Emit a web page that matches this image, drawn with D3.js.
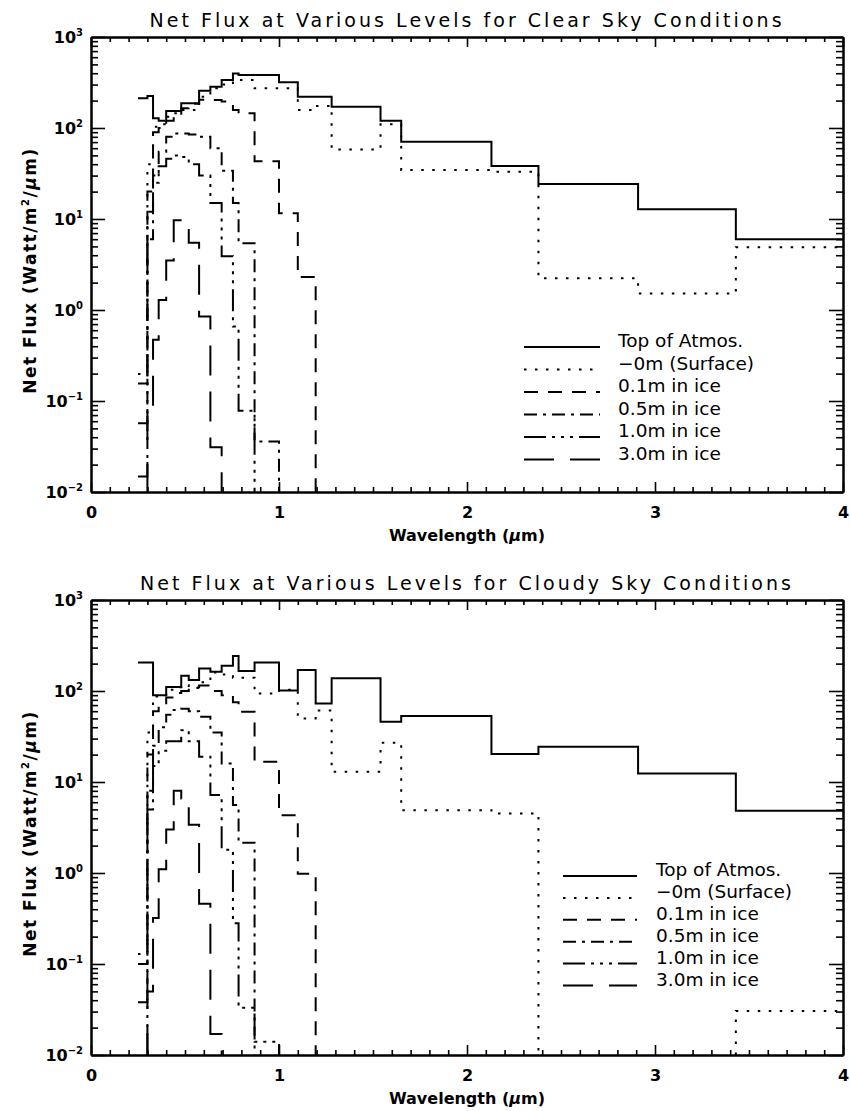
<!DOCTYPE html>
<html><head><meta charset="utf-8">
<script src="https://cdn.jsdelivr.net/npm/d3@7"></script>
<style>body{margin:0;background:#fff} svg{display:block;background:#fff}</style>
</head><body>
<svg id="c" width="850" height="1111"></svg>
<script>
// ---------- DATA ----------
// wavelength band edges (µm); each series gives one value per band (null = below 10^-2)
const bandEdges = [0.25, 0.30, 0.33, 0.36, 0.40, 0.44, 0.48, 0.52, 0.575, 0.635, 0.695, 0.755, 0.785, 0.87, 1.00, 1.10, 1.195, 1.28, 1.54, 1.65, 2.13, 2.38, 2.91, 3.43, 4.00];

// Clear sky
const clearTOA  = [212, 225, 128, 120, 154, 154, 187, 187, 257, 284, 337, 398, 382, 382, 318, 221, 221, 171, 120, 70.6, 38.2, 24.3, 12.8, 6.0];
const clearSurf = [0.198, 40, 103, 110, 133, 145, 158, 158, 221, 273, 300, 337, 337, 273, 273, 158, 175, 58, 110, 34.5, 33, 2.23, 1.52, 4.89];
const clear01   = [0.156, 20, 90, 100, 120, 140, 165, 185, 205, 203, 195, 158, 145, 43, 11.6, 2.3, null, null, null, null, null, null, null, null];
const clear05   = [0.057, 6, 30, 55, 80, 87, 87, 85, 80, 60, 34, 15, 5.4, 0.036, null, null, null, null, null, null, null, null, null, null];
const clear10   = [0.0148, 12, 25, 38, 46, 50, 48, 40, 30, 15, 3.9, 0.66, 0.078, null, null, null, null, null, null, null, null, null, null, null];
const clear30   = [null, 0.08, 0.47, 1.29, 3.5, 9.7, 9.7, 5.5, 0.85, 0.031, null, null, null, null, null, null, null, null, null, null, null, null, null, null];

// Cloudy sky
const cloudyTOA  = [206, 206, 90, 90, 111, 111, 147, 132, 177, 163, 190, 243, 166, 206, 101, 170, 73, 138, 46, 53, 20.3, 24.4, 12.4, 4.84];
const cloudySurf = [0.129, 35, 87, 90, 103, 110, 116, 108, 125, 160, 152, 140, 140, 94, 103, 50, 61, 13, 27, 4.9, 4.5, null, null, 0.0305];
const cloudy01   = [0.10, 20, 60, 70, 85, 95, 100, 110, 115, 100, 90, 75, 59, 16.7, 4.3, 0.98, null, null, null, null, null, null, null, null];
const cloudy05   = [0.038, 5, 25, 40, 55, 62, 64, 60, 52, 35, 16, 5.6, 2.15, null, null, null, null, null, null, null, null, null, null, null];
const cloudy10   = [null, 8, 15, 22, 28, 28, 37, 28, 19, 7.2, 1.8, 0.28, 0.033, 0.014, null, null, null, null, null, null, null, null, null, null];
const cloudy30   = [null, 0.05, 0.32, 1.1, 3.0, 8.0, 6.6, 3.4, 0.46, 0.017, null, null, null, null, null, null, null, null, null, null, null, null, null, null];

const seriesNames = ["Top of Atmos.", "\u22120m (Surface)", "0.1m in ice", "0.5m in ice", "1.0m in ice", "3.0m in ice"];
const xTickValues = [0, 1, 2, 3, 4];
const yTickExponents = [-2, -1, 0, 1, 2, 3];
const titles = ["Net Flux at Various Levels for Clear Sky Conditions", "Net Flux at Various Levels for Cloudy Sky Conditions"];
const xLabel = "Wavelength";
const yLabel = "Net Flux";

// ---------- DRAWING ----------
const FONT = "DejaVu Sans, Liberation Sans, sans-serif";
const dashes = [null, "2.5,8.5", "14,10", "13,6,3,6", "22,6,3,6,3,6,3,6", "30,16"];
const svg = d3.select("#c");
const X0 = 91, X1 = 843, H = 455;
const x = d3.scaleLinear().domain([0, 4]).range([X0, X1]);

function stepPath(vals, y, yb) {
  let d = "", prev = null;
  vals.forEach((v, i) => {
    const xa = x(bandEdges[i]), xb = x(bandEdges[i + 1]);
    if (v != null) {
      const yv = y(v);
      if (prev === null) d += (i === 0 ? `M${xa},${yv}` : `M${xa},${yb}L${xa},${yv}`);
      else d += `L${xa},${yv}`;
      d += `L${xb},${yv}`;
      prev = yv;
    } else if (prev !== null) {
      d += `L${xa},${yb}`;
      prev = null;
    }
  });
  return d;
}

function panel(cfg, idx) {
  const top = cfg.top, bot = top + H;
  const y = d3.scaleLog().domain([1e-2, 1e3]).range([bot, top]);
  const g = svg.append("g");
  const clipId = "clip" + idx;
  svg.append("clipPath").attr("id", clipId).append("rect")
    .attr("x", X0).attr("y", top).attr("width", X1 - X0).attr("height", H);

  const lg = g.append("g").attr("clip-path", `url(#${clipId})`);
  cfg.series.forEach((vals, k) => {
    lg.append("path").attr("d", stepPath(vals, y, bot))
      .attr("fill", "none").attr("stroke", "#000").attr("stroke-width", 2)
      .attr("stroke-dasharray", dashes[k]);
  });

  const minorX = d3.range(0, 41).map(i => i / 10).filter(v => Math.abs(v - Math.round(v)) > 1e-9);
  const minorY = [];
  for (let e = -2; e < 3; e++) for (let m = 2; m <= 9; m++) minorY.push(m * Math.pow(10, e));
  const decades = yTickExponents.map(e => Math.pow(10, e));

  const ax = g.append("g").attr("class", "axes");
  ax.append("g").attr("transform", `translate(0,${bot})`)
    .call(d3.axisBottom(x).tickValues(xTickValues).tickSize(-10).tickSizeOuter(0).tickPadding(15).tickFormat(d3.format("d")));
  ax.append("g").attr("transform", `translate(0,${bot})`)
    .call(d3.axisBottom(x).tickValues(minorX).tickSize(-5).tickSizeOuter(0).tickFormat(""));
  ax.append("g").attr("transform", `translate(0,${top})`)
    .call(d3.axisTop(x).tickValues(xTickValues).tickSize(-10).tickSizeOuter(0).tickFormat(""));
  ax.append("g").attr("transform", `translate(0,${top})`)
    .call(d3.axisTop(x).tickValues(minorX).tickSize(-5).tickSizeOuter(0).tickFormat(""));
  ax.append("g").attr("transform", `translate(${X0},0)`)
    .call(d3.axisLeft(y).tickValues(decades).tickSize(-14).tickSizeOuter(0).tickFormat(""));
  ax.append("g").attr("transform", `translate(${X0},0)`)
    .call(d3.axisLeft(y).tickValues(minorY).tickSize(-7).tickSizeOuter(0).tickFormat(""));
  ax.append("g").attr("transform", `translate(${X1},0)`)
    .call(d3.axisRight(y).tickValues(decades).tickSize(-14).tickSizeOuter(0).tickFormat(""));
  ax.append("g").attr("transform", `translate(${X1},0)`)
    .call(d3.axisRight(y).tickValues(minorY).tickSize(-7).tickSizeOuter(0).tickFormat(""));
  ax.selectAll(".domain").attr("stroke", "#000").attr("stroke-width", 2);
  ax.selectAll(".tick line").attr("stroke", "#000").attr("stroke-width", 1.6);
  ax.selectAll(".tick text").attr("font-family", FONT).attr("font-size", 16)
    .attr("font-weight", "bold").attr("fill", "#000");

  yTickExponents.forEach(e => {
    const t = g.append("text").attr("x", 83).attr("y", y(Math.pow(10, e)) + 6)
      .attr("text-anchor", "end").attr("font-family", FONT).attr("font-size", 16).attr("font-weight", "bold");
    t.append("tspan").text("10");
    t.append("tspan").attr("font-size", 10).attr("dy", -7).text(e < 0 ? "\u2212" + (-e) : String(e));
  });

  cfg.titleNode = g.append("text").attr("x", (X0 + X1) / 2).attr("y", top - 10)
    .attr("text-anchor", "middle").attr("font-family", FONT).attr("font-size", 19).text(cfg.title);

  const xl = g.append("text").attr("x", (X0 + X1) / 2).attr("y", bot + 49)
    .attr("text-anchor", "middle").attr("font-family", FONT).attr("font-size", 16).attr("font-weight", "bold");
  xl.append("tspan").text(xLabel + " (");
  xl.append("tspan").attr("font-style", "italic").text("\u03bc");
  xl.append("tspan").text("m)");

  const yl = g.append("text").attr("transform", `translate(36,${(top + bot) / 2 + 6}) rotate(-90)`)
    .attr("text-anchor", "middle").attr("font-family", FONT).attr("font-size", 17)
    .attr("letter-spacing", 1.5).attr("font-weight", "bold");
  yl.append("tspan").text(yLabel + " (Watt/m");
  yl.append("tspan").attr("font-size", 10).attr("dy", -7).text("2");
  yl.append("tspan").attr("dy", 7).text("/");
  yl.append("tspan").attr("font-style", "italic").text("\u03bc");
  yl.append("tspan").text("m)");

  const L = cfg.legend;
  seriesNames.forEach((name, k) => {
    const yy = L.y0 + k * L.dy;
    g.append("line").attr("x1", L.x0).attr("x2", L.x1).attr("y1", yy).attr("y2", yy)
      .attr("stroke", "#000").attr("stroke-width", 2).attr("stroke-dasharray", dashes[k]);
    g.append("text").attr("x", L.tx).attr("y", yy).attr("font-family", FONT)
      .attr("font-size", L.fs).text(name);
  });
  return cfg;
}

const panels = [
  { top: 37, title: titles[0], series: [clearTOA, clearSurf, clear01, clear05, clear10, clear30],
    legend: { x0: 524, x1: 600, tx: 618, y0: 347, dy: 22.5, fs: 18.5 } },
  { top: 600, title: titles[1], series: [cloudyTOA, cloudySurf, cloudy01, cloudy05, cloudy10, cloudy30],
    legend: { x0: 563, x1: 637, tx: 656, y0: 876, dy: 21.9, fs: 18.5 } }
].map(panel);

const target = 651;
const natural = panels[1].titleNode.node().getComputedTextLength();
const ls = (target - natural) / (titles[1].length - 1);
panels.forEach(p => p.titleNode.attr("letter-spacing", ls));
</script>
</body></html>
